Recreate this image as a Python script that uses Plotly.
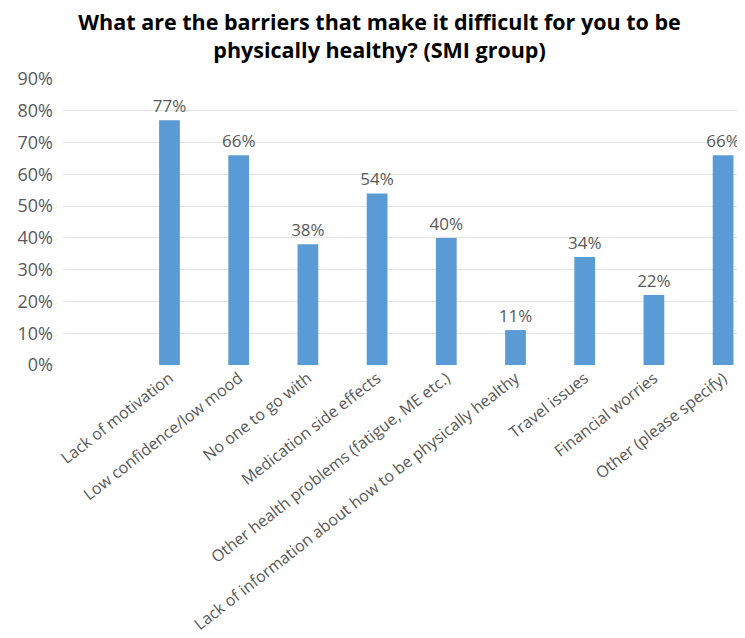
import plotly.graph_objects as go

categories = [
    "Lack of motivation",
    "Low confidence/low mood",
    "No one to go with",
    "Medication side effects",
    "Other health problems (fatigue, ME etc.)",
    "Lack of information about how to be physically healthy",
    "Travel issues",
    "Financial worries",
    "Other (please specify)",
]
values = [0.77, 0.66, 0.38, 0.54, 0.40, 0.11, 0.34, 0.22, 0.66]
y_ticks = [0, 0.1, 0.2, 0.3, 0.4, 0.5, 0.6, 0.7, 0.8, 0.9]
title_text = "What are the barriers that make it difficult for you to be<br>physically healthy? (SMI group)"

FONT = "Open Sans"
GRAY = "#595959"

fig = go.Figure(
    go.Bar(
        x=categories,
        y=values,
        marker=dict(color="#5B9BD5", line=dict(width=0)),
        texttemplate="%{y:.0%}",
        textposition="outside",
        constraintext="none",
        textfont=dict(family=FONT, size=17, color=GRAY),
        cliponaxis=False,
    )
)

fig.update_layout(
    width=745,
    height=638,
    paper_bgcolor="white",
    plot_bgcolor="white",
    margin=dict(l=55, r=0, t=71, b=281, autoexpand=False),
    bargap=0.7,
    showlegend=False,
    title=dict(
        text=f"<b>{title_text}</b>",
        x=0.4987,
        xanchor="center",
        y=0.965,
        yanchor="middle",
        automargin=False,
        font=dict(family=FONT, size=21.5, color="#000000"),
    ),
    font=dict(family=FONT, color=GRAY),
)

fig.update_xaxes(
    type="category",
    range=[-1.539, 8.432],
    tickangle=-38,
    tickfont=dict(family=FONT, size=16, color=GRAY),
    showgrid=False,
    showline=False,
    ticks="",
    automargin=False,
)
fig.update_yaxes(
    range=[0, 0.9],
    tickvals=y_ticks,
    tickformat=".0%",
    tickfont=dict(family=FONT, size=18, color=GRAY),
    showgrid=True,
    gridcolor="#E3E3E3",
    gridwidth=1,
    zeroline=False,
    showline=False,
    ticks="",
    ticklabelstandoff=9,
    automargin=False,
)

fig.write_html("out.html")
